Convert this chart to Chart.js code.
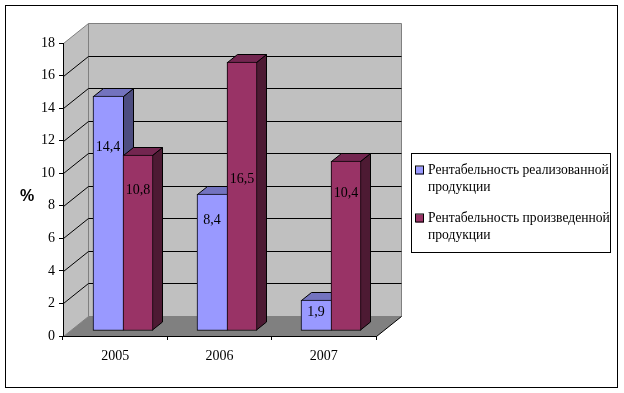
<!DOCTYPE html>
<html>
<head>
<meta charset="utf-8">
<script src="https://cdn.jsdelivr.net/npm/chart.js@4"></script>
<style>
  html, body { margin:0; padding:0; background:#fff; }
  canvas { display:block; }
</style>
</head>
<body>
<canvas id="chart" width="624" height="393"></canvas>
<script>
const years = ['2005', '2006', '2007'];
const soldProfit = [14.4, 8.4, 1.9];
const madeProfit = [10.8, 16.5, 10.4];
const legendLines = [
  ['Рентабельность реализованной', 'продукции'],
  ['Рентабельность произведенной', 'продукции']
];
const yUnit = '%';

const serif = '"Liberation Serif", "Times New Roman", serif';
const fontPx = 14;
const legendPx = 13.6;
const wallDx = 25, wallDy = -20;      // back wall offset from the axes
const barDx = 8, barDy = -6;          // bars stand a bit inside the floor
const sideDx = 10, sideDy = -8;       // bar depth
// where the value text sits, as share of bar height from its base
const labelLift = [[0.78, 0.806, 0.58], [0.80, 0.563, 0.81]];

const colors = [
  { front:'#9999FF', top:'#7373BF', side:'#4D4D80' },
  { front:'#993366', top:'#732650', side:'#4D1A33' }
];

function poly(ctx, pts, fill, stroke) {
  ctx.beginPath();
  pts.forEach((p, i) => i ? ctx.lineTo(p[0], p[1]) : ctx.moveTo(p[0], p[1]));
  ctx.closePath();
  if (fill) { ctx.fillStyle = fill; ctx.fill(); }
  if (stroke) { ctx.strokeStyle = stroke; ctx.lineWidth = 1; ctx.stroke(); }
}

// Walls, floor and grid behind the bars
const walls = {
  id:'walls',
  beforeDraw(chart) {
    const { ctx, scales:{ x, y } } = chart;
    const l = Math.round(x.left) + 0.5, r = Math.round(x.right) + 0.5;
    const bottom = Math.round(y.getPixelForValue(0)) + 0.5;
    const top = Math.round(y.getPixelForValue(18)) + 0.5;
    ctx.save();
    ctx.fillStyle = '#fff';
    ctx.fillRect(0, 0, chart.width, chart.height);
    ctx.strokeStyle = '#000';
    ctx.strokeRect(5.5, 5.5, 612, 382);
    poly(ctx, [[l, bottom], [l + wallDx, bottom + wallDy], [l + wallDx, top + wallDy], [l, top]], '#C0C0C0', '#808080');
    poly(ctx, [[l + wallDx, bottom + wallDy], [r + wallDx, bottom + wallDy], [r + wallDx, top + wallDy], [l + wallDx, top + wallDy]], '#C0C0C0', '#808080');
    poly(ctx, [[l, bottom], [r, bottom], [r + wallDx, bottom + wallDy], [l + wallDx, bottom + wallDy]], '#808080', null);
    ctx.strokeStyle = '#000';
    ctx.beginPath();
    ctx.moveTo(r, bottom); ctx.lineTo(r + wallDx, bottom + wallDy);
    y.ticks.forEach(t => {
      if (t.value === 0 || t.value === 18) return;
      const py = Math.round(y.getPixelForValue(t.value)) + 0.5;
      ctx.moveTo(l, py);
      ctx.lineTo(l + wallDx, py + wallDy);
      ctx.lineTo(r + wallDx, py + wallDy);
    });
    ctx.stroke();
    ctx.restore();
  }
};

// Bars drawn first series first, with their top and side faces
const bars3d = {
  id:'bars3d',
  afterDatasetsUpdate(chart) {
    chart.data.datasets.forEach((ds, i) => {
      chart.getDatasetMeta(i).data.forEach(el => {
        el.x = Math.floor(el.x);
        el.y = Math.round(el.y + 0.5);
        el.base += 1;
      });
    });
  },
  beforeDatasetDraw() { return false; },
  afterDatasetsDraw(chart) {
    const { ctx } = chart;
    ctx.save();
    ctx.translate(barDx, barDy);
    chart.data.datasets.forEach((ds, i) => {
      const c = colors[i];
      chart.getDatasetMeta(i).data.forEach((el, j) => {
        const L = el.x - el.width / 2 + 0.5;
        const R = el.x + el.width / 2 + (i === 0 ? 0.5 : -0.5);
        const T = el.y + 0.5, B = el.base - 0.5;
        poly(ctx, [[R, T], [R + sideDx, T + sideDy], [R + sideDx, B + sideDy], [R, B]], c.side, '#000');
        poly(ctx, [[L, T], [L + sideDx, T + sideDy], [R + sideDx, T + sideDy], [R, T]], c.top, '#000');
        el.draw(ctx);
      });
    });
    ctx.font = fontPx + 'px ' + serif;
    ctx.fillStyle = '#000';
    ctx.textAlign = 'center';
    ctx.textBaseline = 'middle';
    chart.data.datasets.forEach((ds, i) => {
      chart.getDatasetMeta(i).data.forEach((el, j) => {
        const py = el.base - (el.base - el.y) * labelLift[i][j];
        ctx.fillText(String(ds.data[j]).replace('.', ','), el.x, py);
      });
    });
    ctx.restore();
  }
};

// Hand drawn legend box and the unit label on the left
const sideBits = {
  id:'sideBits',
  afterDraw(chart) {
    const { ctx } = chart;
    ctx.save();
    ctx.fillStyle = '#000';
    ctx.font = 'bold 16px "Liberation Sans", Arial, sans-serif';
    ctx.textAlign = 'center';
    ctx.textBaseline = 'middle';
    ctx.fillText(yUnit, 27, 197);

    ctx.strokeStyle = '#000';
    ctx.strokeRect(411.5, 153.5, 199, 99);
    ctx.font = legendPx + 'px ' + serif;
    ctx.textAlign = 'left';
    legendLines.forEach((lines, i) => {
      const y0 = 170.5 + i * 48;
      ctx.fillStyle = colors[i].front;
      ctx.fillRect(416, y0 - 4, 8, 8);
      ctx.strokeRect(415.5, y0 - 4.5, 8, 8);
      ctx.fillStyle = '#000';
      lines.forEach((s, k) => ctx.fillText(s, 428, y0 + k * 16.5));
    });
    ctx.restore();
  }
};

new Chart(document.getElementById('chart'), {
  type:'bar',
  data: {
    labels: years,
    datasets: [
      { label:legendLines[0].join(' '), data:soldProfit, backgroundColor:colors[0].front, borderColor:'#000',
        borderWidth:{ left:1, top:1, bottom:1, right:0 }, borderSkipped:false, barThickness:30 },
      { label:legendLines[1].join(' '), data:madeProfit, backgroundColor:colors[1].front, borderColor:'#000',
        borderWidth:1, borderSkipped:false, barThickness:30 }
    ]
  },
  options: {
    responsive:false,
    animation:false,
    layout:{ padding:{ left:0, top:43, right:248, bottom:0 } },
    plugins:{ legend:{ display:false }, tooltip:{ enabled:false } },
    scales: {
      x: {
        afterFit(s) { s.height = 57; },
        grid:{ drawOnChartArea:false, color:'#000', tickLength:4 },
        border:{ color:'#000' },
        ticks:{ color:'#000', padding:8, font:{ family:serif, size:fontPx } }
      },
      y: {
        min:0, max:18,
        afterFit(s) { s.width = 63; },
        grid:{ drawOnChartArea:false, color:'#000', tickLength:4 },
        border:{ color:'#000' },
        ticks:{ stepSize:2, color:'#000', padding:4, font:{ family:serif, size:fontPx } }
      }
    }
  },
  plugins:[walls, bars3d, sideBits]
});
</script>
</body>
</html>
